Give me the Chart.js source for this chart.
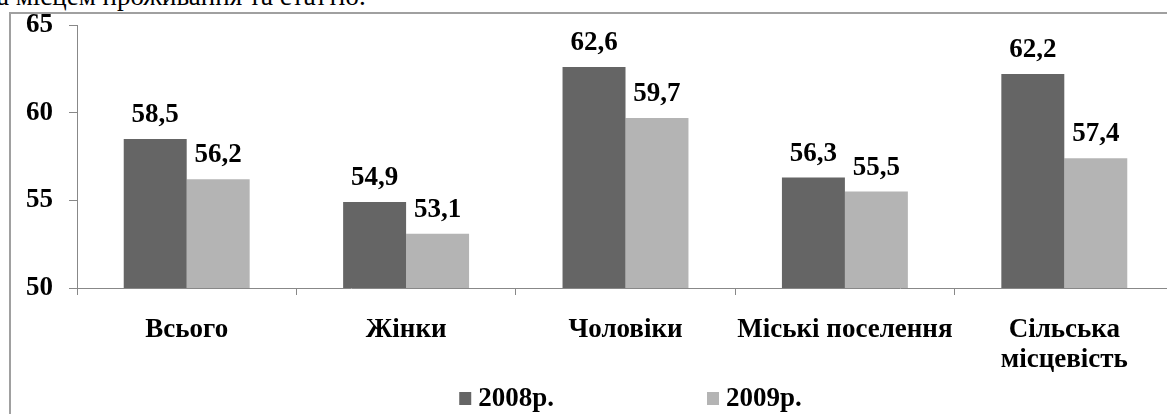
<!DOCTYPE html>
<html>
<head>
<meta charset="utf-8">
<script src="https://cdn.jsdelivr.net/npm/chart.js@4"></script>
<style>
    body { margin: 0; width: 1167px; height: 414px; overflow: hidden; position: relative; background: #fff; }
    #heading { position: absolute; left: -3px; top: -18px; font: 27px/28px "Liberation Serif", serif; white-space: nowrap; color: #000; }
    #frame { position: absolute; left: 9px; top: 12px; width: 1200px; height: 500px; border: 2px solid #a0a0a0; box-sizing: border-box; }
    #wrap { position: absolute; left: 0; top: 0; width: 1180px; height: 414px; }
</style>
</head>
<body>
<div id="heading">а місцем проживання та статтю.</div>
<div id="frame"></div>
<div id="wrap"><canvas id="barChart"></canvas></div>
<script>
const categories = ['Всього', 'Жінки', 'Чоловіки', 'Міські поселення', ['Сільська', 'місцевість']];
const seriesNames = ['2008р.', '2009р.'];
const values2008 = [58.5, 54.9, 62.6, 56.3, 62.2];
const values2009 = [56.2, 53.1, 59.7, 55.5, 57.4];
const yTicks = [50, 55, 60, 65];
const colors = ['#656565', '#b4b4b4'];

const serif = '"Liberation Serif"';
Chart.defaults.font.family = serif;

// values on top of the bars, with a comma as decimal mark
const valueLabels = {
    id: 'valueLabels',
    afterDatasetsDraw(chart) {
        const ctx = chart.ctx;
        ctx.save();
        ctx.font = 'bold 27px "Liberation Serif"';
        ctx.fillStyle = '#000';
        ctx.textAlign = 'center';
        ctx.textBaseline = 'alphabetic';
        chart.data.datasets.forEach((ds, i) => {
            chart.getDatasetMeta(i).data.forEach((bar, j) => {
                const txt = ds.data[j].toFixed(1).replace('.', ',');
                ctx.fillText(txt, bar.x, bar.y - 17);
            });
        });
        ctx.restore();
    }
};

// legend spread out like the original
const spreadLegend = {
    id: 'spreadLegend',
    afterDraw(chart) {
        const ctx = chart.ctx;
        const area = chart.chartArea;
        ctx.save();
        ctx.font = 'bold 27px "Liberation Serif"';
        ctx.textBaseline = 'alphabetic';
        const box = 12, gapBox = 7, gapItem = 153;
        const widths = chart.data.datasets.map(ds => box + gapBox + ctx.measureText(ds.label).width);
        const total = widths.reduce((a, b) => a + b, 0) + gapItem * (widths.length - 1);
        let x = (area.left + area.right) / 2 - total / 2 + 5;
        const baseY = chart.height - 8;
        chart.data.datasets.forEach((ds, i) => {
            ctx.fillStyle = ds.backgroundColor;
            ctx.fillRect(x, baseY - 14, box, box + 1);
            ctx.fillStyle = '#000';
            ctx.fillText(ds.label, x + box + gapBox, baseY);
            x += widths[i] + gapItem;
        });
        ctx.restore();
    }
};

const ctx = document.getElementById('barChart').getContext('2d');
const chart = new Chart(ctx, {
    type: 'bar',
    data: {
        labels: categories,
        datasets: [
            { label: seriesNames[0], data: values2008, backgroundColor: colors[0] },
            { label: seriesNames[1], data: values2009, backgroundColor: colors[1] }
        ]
    },
    options: {
        responsive: true,
        maintainAspectRatio: false,
        animation: false,
        categoryPercentage: 0.574,
        barPercentage: 1,
        layout: { padding: { left: 0, top: 25, right: 6, bottom: 38 } },
        scales: {
            x: {
                grid: { drawOnChartArea: false, tickLength: 7, color: '#888' },
                border: { color: '#888', width: 1 },
                ticks: {
                    color: '#000',
                    padding: 20,
                    maxRotation: 0,
                    autoSkip: false,
                    font: { family: serif, size: 27, weight: 'bold', lineHeight: 1.1 }
                },
                afterFit: (scale) => {
                    scale.height = 88;
                    scale.paddingLeft = 0;
                    scale.paddingRight = 0;
                }
            },
            y: {
                min: 50,
                max: 65,
                afterBuildTicks: (scale) => { scale.ticks = yTicks.map(v => ({ value: v })); },
                grid: { drawOnChartArea: false, tickLength: 8, color: '#888' },
                border: { color: '#888', width: 1 },
                ticks: {
                    color: '#000',
                    padding: 16,
                    font: { family: serif, size: 27, weight: 'bold' }
                },
                afterFit: (scale) => {
                    scale.width = 77;
                    scale.paddingTop = 0;
                    scale.paddingBottom = 0;
                }
            }
        },
        plugins: {
            legend: { display: false },
            tooltip: { enabled: false }
        }
    },
    plugins: [valueLabels, spreadLegend]
});
</script>
</body>
</html>
